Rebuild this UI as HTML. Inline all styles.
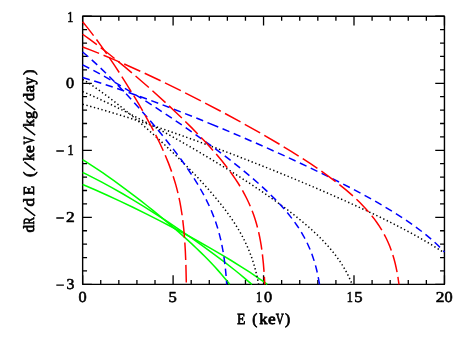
<!DOCTYPE html>
<html><head><meta charset="utf-8"><title>dR/dE vs E</title>
<style>html,body{margin:0;padding:0;background:#fff;}body{width:463px;height:342px;overflow:hidden;font-family:"Liberation Sans",sans-serif;}svg{display:block;will-change:transform;}</style>
</head><body>
<svg width="463" height="342" viewBox="0 0 463 342">
<rect width="463" height="342" fill="#fff"/>
<defs><clipPath id="c"><rect x="82.05" y="16.25" width="363.00" height="268.70"/></clipPath></defs>
<path d="M82.65 284.35v-9.2M82.65 16.25v9.2M100.74 284.35v-4.4M100.74 16.25v4.4M118.83 284.35v-4.4M118.83 16.25v4.4M136.92 284.35v-4.4M136.92 16.25v4.4M155.01 284.35v-4.4M155.01 16.25v4.4M173.10 284.35v-9.2M173.10 16.25v9.2M191.19 284.35v-4.4M191.19 16.25v4.4M209.28 284.35v-4.4M209.28 16.25v4.4M227.37 284.35v-4.4M227.37 16.25v4.4M245.46 284.35v-4.4M245.46 16.25v4.4M263.55 284.35v-9.2M263.55 16.25v9.2M281.64 284.35v-4.4M281.64 16.25v4.4M299.73 284.35v-4.4M299.73 16.25v4.4M317.82 284.35v-4.4M317.82 16.25v4.4M335.91 284.35v-4.4M335.91 16.25v4.4M354.00 284.35v-9.2M354.00 16.25v9.2M372.09 284.35v-4.4M372.09 16.25v4.4M390.18 284.35v-4.4M390.18 16.25v4.4M408.27 284.35v-4.4M408.27 16.25v4.4M426.36 284.35v-4.4M426.36 16.25v4.4M444.45 284.35v-9.2M444.45 16.25v9.2M82.65 16.25h9.2M444.45 16.25h-9.2M82.65 29.66h4.4M444.45 29.66h-4.4M82.65 43.06h4.4M444.45 43.06h-4.4M82.65 56.47h4.4M444.45 56.47h-4.4M82.65 69.87h4.4M444.45 69.87h-4.4M82.65 83.28h9.2M444.45 83.28h-9.2M82.65 96.68h4.4M444.45 96.68h-4.4M82.65 110.09h4.4M444.45 110.09h-4.4M82.65 123.49h4.4M444.45 123.49h-4.4M82.65 136.90h4.4M444.45 136.90h-4.4M82.65 150.30h9.2M444.45 150.30h-9.2M82.65 163.71h4.4M444.45 163.71h-4.4M82.65 177.11h4.4M444.45 177.11h-4.4M82.65 190.52h4.4M444.45 190.52h-4.4M82.65 203.92h4.4M444.45 203.92h-4.4M82.65 217.33h9.2M444.45 217.33h-9.2M82.65 230.73h4.4M444.45 230.73h-4.4M82.65 244.14h4.4M444.45 244.14h-4.4M82.65 257.54h4.4M444.45 257.54h-4.4M82.65 270.95h4.4M444.45 270.95h-4.4M82.65 284.35h9.2M444.45 284.35h-9.2" stroke="#000" stroke-width="1.3" fill="none"/>
<rect x="82.65" y="16.25" width="361.80" height="268.10" fill="none" stroke="#000" stroke-width="1.4" stroke-linejoin="round"/>
<g clip-path="url(#c)" fill="none">
<path d="M82.65 159.64L87.69 162.81L92.69 166.05L97.65 169.34L102.58 172.68L107.47 176.07L113.55 180.37L124.38 188.27L135.07 196.33L140.96 200.89L146.81 205.49L152.62 210.14L158.39 214.84L168.68 223.42L178.82 232.18L187.70 240.12L192.08 244.15L196.41 248.24L200.70 252.37L204.94 256.55L209.11 260.80L212.19 264.03L215.24 267.30L218.23 270.61L221.18 273.97L224.06 277.38L226.89 280.84L229.65 284.35" stroke="#00ff00" stroke-width="1.55"/>
<path d="M82.65 172.47L86.69 174.41L92.05 177.07L101.34 181.89L111.84 187.61L122.24 193.53L132.54 199.61L144.03 206.62L155.41 213.80L167.95 221.95L180.37 230.27L191.45 237.91L203.64 246.56L214.50 254.51L225.23 262.63L234.65 270.00L239.30 273.76L243.92 277.56L251.88 284.35" stroke="#00ff00" stroke-width="1.55"/>
<path d="M82.65 184.44L94.98 189.75L107.23 195.23L119.41 200.87L132.86 207.29L146.24 213.87L159.55 220.61L172.78 227.48L185.93 234.51L197.70 240.97L209.38 247.57L220.98 254.33L231.20 260.48L241.33 266.79L250.09 272.47L258.74 278.31L263.62 281.73L267.25 284.35" stroke="#00ff00" stroke-width="1.55"/>
<path d="M82.65 79.32L83.80 80.03 M85.94 81.37L87.08 82.10 M89.20 83.48L90.33 84.22 M92.43 85.63L93.55 86.38 M95.63 87.81L96.74 88.58 M98.81 90.04L99.91 90.82 M101.97 92.30L103.06 93.09 M105.10 94.59L106.19 95.39 M108.21 96.90L109.29 97.72 M111.31 99.25L112.38 100.07 M114.38 101.61L115.44 102.44 M117.44 104.00L118.50 104.84 M120.48 106.42L121.53 107.26 M123.50 108.85L124.55 109.70 M126.51 111.30L127.55 112.15 M129.50 113.77L130.54 114.63 M132.48 116.25L133.51 117.12 M135.45 118.75L136.48 119.63 M138.40 121.27L139.42 122.15 M141.34 123.80L142.36 124.69 M144.27 126.35L145.28 127.24 M147.18 128.91L148.19 129.81 M150.08 131.49L151.09 132.39 M152.97 134.08L153.98 134.98 M155.85 136.68L156.85 137.59 M158.72 139.29L159.71 140.21 M161.57 141.92L162.56 142.84 M164.41 144.56L165.40 145.48 M167.24 147.22L168.22 148.14 M170.06 149.88L171.04 150.82 M172.86 152.57L173.84 153.50 M175.66 155.26L176.63 156.20 M178.44 157.97L179.40 158.91 M181.20 160.69L182.16 161.64 M183.95 163.43L184.91 164.38 M186.69 166.18L187.64 167.14 M189.41 168.94L190.35 169.91 M192.11 171.73L193.05 172.70 M194.80 174.52L195.73 175.50 M197.47 177.34L198.39 178.33 M200.12 180.18L201.03 181.17 M202.75 183.03L203.66 184.03 M205.35 185.90L206.25 186.91 M207.93 188.80L208.83 189.81 M210.49 191.72L211.37 192.74 M213.02 194.66L213.89 195.69 M215.52 197.63L216.38 198.67 M217.99 200.62L218.84 201.67 M220.42 203.65L221.25 204.71 M222.81 206.70L223.63 207.77 M225.16 209.79L225.97 210.87 M227.47 212.91L228.26 214.00 M229.73 216.06L230.50 217.17 M231.93 219.25L232.69 220.37 M234.08 222.48L234.82 223.62 M236.17 225.76L236.88 226.90 M238.19 229.07L238.88 230.23 M240.14 232.42L240.80 233.60 M242.02 235.82L242.65 237.01 M243.82 239.26L244.42 240.46 M245.53 242.74L246.10 243.96 M247.16 246.26L247.70 247.49 M248.69 249.82L249.20 251.07 M250.14 253.42L250.62 254.68 M251.49 257.06L251.93 258.33 M252.74 260.73L253.16 262.02 M253.91 264.43L254.29 265.73 M254.98 268.16L255.33 269.47 M255.96 271.92L256.28 273.23 M256.86 275.69L257.15 277.01 M257.67 279.48L257.93 280.81 M258.41 283.29L258.60 284.35" stroke="#000000" stroke-width="1.5"/>
<path d="M82.65 91.57L83.89 92.11 M86.21 93.11L87.45 93.65 M89.76 94.68L91.00 95.23 M93.30 96.26L94.53 96.82 M96.84 97.87L98.06 98.43 M100.36 99.49L101.58 100.06 M103.87 101.13L105.10 101.71 M107.38 102.79L108.60 103.38 M110.88 104.47L112.10 105.06 M114.37 106.16L115.58 106.76 M117.86 107.87L119.07 108.47 M121.33 109.60L122.54 110.20 M124.80 111.33L126.01 111.94 M128.26 113.08L129.47 113.70 M131.72 114.85L132.92 115.46 M135.17 116.62L136.37 117.24 M138.61 118.41L139.81 119.04 M142.05 120.21L143.25 120.84 M145.48 122.02L146.67 122.65 M148.91 123.84L150.10 124.48 M152.33 125.68L153.52 126.32 M155.74 127.52L156.93 128.16 M159.15 129.37L160.33 130.02 M162.55 131.24L163.74 131.89 M165.95 133.11L167.13 133.76 M169.34 134.99L170.52 135.65 M172.73 136.89L173.91 137.55 M176.11 138.79L177.29 139.45 M179.49 140.70L180.66 141.37 M182.86 142.62L184.03 143.29 M186.23 144.55L187.40 145.22 M189.59 146.49L190.76 147.16 M192.94 148.44L194.11 149.11 M196.29 150.39L197.46 151.07 M199.64 152.36L200.80 153.04 M202.98 154.33L204.14 155.02 M206.31 156.31L207.47 157.01 M209.64 158.31L210.80 159.00 M212.97 160.31L214.12 161.01 M216.29 162.32L217.44 163.02 M219.60 164.34L220.75 165.05 M222.90 166.37L224.05 167.08 M226.20 168.41L227.35 169.13 M229.50 170.46L230.64 171.18 M232.78 172.53L233.93 173.25 M236.06 174.60L237.20 175.32 M239.34 176.68L240.47 177.41 M242.60 178.78L243.74 179.51 M245.86 180.88L246.99 181.62 M249.11 183.00L250.24 183.74 M252.35 185.14L253.48 185.88 M255.59 187.28L256.71 188.03 M258.81 189.44L259.93 190.20 M262.02 191.62L263.14 192.38 M265.22 193.81L266.33 194.57 M268.41 196.02L269.52 196.79 M271.59 198.24L272.69 199.02 M274.76 200.49L275.86 201.27 M277.91 202.75L279.00 203.54 M281.05 205.03L282.13 205.83 M284.17 207.34L285.25 208.15 M287.27 209.67L288.34 210.48 M290.35 212.02L291.42 212.85 M293.42 214.40L294.48 215.24 M296.46 216.81L297.51 217.66 M299.47 219.25L300.52 220.11 M302.47 221.72L303.50 222.59 M305.43 224.23L306.45 225.11 M308.36 226.77L309.37 227.67 M311.26 229.35L312.26 230.26 M314.12 231.97L315.10 232.90 M316.93 234.64L317.90 235.58 M319.71 237.35L320.66 238.31 M322.43 240.12L323.37 241.09 M325.10 242.93L326.02 243.92 M327.72 245.80L328.61 246.81 M330.26 248.73L331.13 249.76 M332.74 251.71L333.59 252.76 M335.14 254.76L335.96 255.83 M337.46 257.87L338.25 258.97 M339.69 261.04L340.45 262.16 M341.83 264.28L342.55 265.42 M343.87 267.58L344.55 268.75 M345.80 270.95L346.45 272.13 M347.62 274.37L348.23 275.58 M349.33 277.86L349.90 279.08 M350.93 281.39L351.45 282.64" stroke="#000000" stroke-width="1.5"/>
<path d="M82.65 104.27L83.95 104.62 M86.40 105.28L87.70 105.63 M90.14 106.30L91.44 106.67 M93.88 107.35L95.17 107.71 M97.61 108.40L98.91 108.78 M101.34 109.48L102.63 109.85 M105.06 110.56L106.36 110.94 M108.78 111.66L110.08 112.05 M112.50 112.77L113.79 113.16 M116.21 113.90L117.51 114.29 M119.92 115.03L121.21 115.43 M123.63 116.18L124.92 116.58 M127.33 117.34L128.62 117.74 M131.03 118.51L132.32 118.92 M134.73 119.69L136.01 120.10 M138.42 120.88L139.71 121.29 M142.11 122.08L143.40 122.50 M145.80 123.29L147.08 123.71 M149.48 124.51L150.76 124.93 M153.16 125.73L154.44 126.16 M156.84 126.97L158.12 127.40 M160.52 128.22L161.79 128.65 M164.19 129.47L165.46 129.91 M167.86 130.73L169.13 131.17 M171.52 132.00L172.80 132.45 M175.19 133.28L176.46 133.73 M178.85 134.57L180.12 135.02 M182.50 135.86L183.78 136.31 M186.16 137.16L187.43 137.61 M189.81 138.47L191.08 138.92 M193.46 139.78L194.73 140.24 M197.11 141.10L198.38 141.56 M200.76 142.43L202.03 142.89 M204.40 143.77L205.67 144.23 M208.04 145.11L209.31 145.58 M211.68 146.45L212.95 146.93 M215.32 147.81L216.58 148.28 M218.95 149.17L220.21 149.64 M222.58 150.54L223.84 151.01 M226.21 151.91L227.47 152.39 M229.84 153.29L231.10 153.77 M233.46 154.67L234.72 155.16 M237.08 156.06L238.34 156.55 M240.70 157.46L241.96 157.95 M244.32 158.86L245.58 159.35 M247.94 160.27L249.19 160.76 M251.55 161.69L252.81 162.18 M255.16 163.11L256.42 163.60 M258.77 164.53L260.02 165.03 M262.37 165.97L263.63 166.47 M265.98 167.40L267.23 167.91 M269.58 168.85L270.83 169.35 M273.18 170.30L274.43 170.80 M276.77 171.75L278.03 172.26 M280.37 173.21L281.62 173.72 M283.96 174.68L285.21 175.19 M287.55 176.15L288.80 176.67 M291.14 177.63L292.38 178.15 M294.72 179.12L295.97 179.64 M298.30 180.61L299.55 181.13 M301.88 182.11L303.13 182.63 M305.46 183.61L306.70 184.14 M309.03 185.13L310.27 185.65 M312.60 186.64L313.84 187.17 M316.17 188.17L317.41 188.70 M319.74 189.70L320.98 190.23 M323.30 191.24L324.54 191.78 M326.86 192.79L328.09 193.32 M330.41 194.34L331.65 194.88 M333.96 195.90L335.20 196.45 M337.51 197.47L338.75 198.02 M341.06 199.05L342.29 199.60 M344.60 200.63L345.83 201.19 M348.13 202.23L349.36 202.79 M351.67 203.83L352.90 204.39 M355.20 205.45L356.42 206.01 M358.72 207.07L359.94 207.64 M362.24 208.70L363.46 209.27 M365.75 210.35L366.98 210.92 M369.26 212.00L370.48 212.58 M372.77 213.67L373.98 214.25 M376.26 215.35L377.48 215.94 M379.76 217.04L380.97 217.63 M383.24 218.75L384.45 219.34 M386.72 220.47L387.93 221.07 M390.19 222.20L391.40 222.81 M393.65 223.95L394.86 224.56 M397.11 225.71L398.31 226.33 M400.55 227.50L401.75 228.12 M403.99 229.30L405.18 229.93 M407.42 231.12L408.61 231.76 M410.83 232.96L412.02 233.60 M414.24 234.82L415.42 235.47 M417.63 236.71L418.81 237.37 M421.01 238.62L422.18 239.29 M424.37 240.55L425.54 241.23 M427.72 242.51L428.88 243.20 M431.05 244.50L432.20 245.20 M434.36 246.53L435.51 247.24 M437.65 248.58L438.79 249.31 M440.92 250.67L442.05 251.41 M444.16 252.80L444.45 252.99" stroke="#000000" stroke-width="1.5"/>
<path d="M82.65 52.01L88.29 56.80 M91.79 59.90L97.25 64.89 M100.65 68.09L105.98 73.23 M109.30 76.51L114.51 81.76 M117.77 85.11L122.89 90.45 M126.09 93.85L131.12 99.28 M134.26 102.73L139.21 108.23 M142.31 111.73L147.18 117.30 M150.23 120.84L155.02 126.48 M158.01 130.06L162.71 135.78 M165.65 139.41L170.24 145.21 M173.11 148.90L177.59 154.79 M180.37 158.54L184.70 164.54 M187.37 168.37L191.51 174.50 M194.05 178.42L197.95 184.71 M200.32 188.74L203.91 195.21 M206.06 199.35L209.27 206.02 M211.16 210.29L213.92 217.15 M215.52 221.54L217.79 228.58 M219.08 233.07L220.87 240.25 M221.85 244.82L223.20 252.09 M223.92 256.71L224.89 264.04 M225.41 268.68L226.10 276.05 M226.46 280.71L226.70 284.35" stroke="#0000ff" stroke-width="1.5"/>
<path d="M82.65 64.89L89.24 68.26 M93.37 70.43L99.88 73.95 M103.97 76.21L110.42 79.84 M114.46 82.17L120.85 85.91 M124.86 88.30L131.20 92.12 M135.18 94.56L141.46 98.47 M145.42 100.96L151.66 104.93 M155.58 107.46L161.78 111.51 M165.68 114.08L171.84 118.18 M175.71 120.79L181.82 124.96 M185.67 127.61L191.74 131.83 M195.56 134.52L201.59 138.81 M205.38 141.54L211.36 145.90 M215.12 148.67L221.04 153.11 M224.77 155.93L230.63 160.45 M234.30 163.33L240.09 167.94 M243.71 170.89L249.40 175.62 M252.96 178.64L258.53 183.51 M262.00 186.63L267.42 191.67 M270.79 194.91L276.01 200.15 M279.23 203.54L284.19 209.02 M287.23 212.57L291.85 218.35 M294.64 222.10L297.18 225.74L298.82 228.20 M301.30 232.16L303.53 236.00L304.94 238.60 M307.05 242.77L308.31 245.45L310.08 249.52 M311.78 253.86L312.79 256.65L314.17 260.87 M315.48 265.35L316.24 268.21L317.27 272.53 M318.23 277.10L319.52 284.35" stroke="#0000ff" stroke-width="1.5"/>
<path d="M82.65 77.54L89.74 79.67 M94.20 81.05L101.25 83.29 M105.69 84.73L112.72 87.05 M117.15 88.53L124.15 90.93 M128.56 92.47L135.54 94.93 M139.93 96.51L146.89 99.03 M151.27 100.65L158.21 103.23 M162.58 104.88L169.49 107.51 M173.85 109.19L180.74 111.88 M185.09 113.58L191.97 116.31 M196.30 118.05L203.16 120.82 M207.49 122.58L218.24 127.01 M222.55 128.81L229.37 131.68 M233.67 133.50L240.48 136.40 M244.77 138.25L251.56 141.19 M255.84 143.06L262.61 146.04 M266.88 147.93L273.64 150.95 M277.89 152.87L284.63 155.93 M288.88 157.88L295.59 160.98 M299.83 162.95L306.52 166.10 M310.74 168.11L317.41 171.31 M321.62 173.34L328.26 176.60 M332.45 178.67L339.06 181.99 M343.22 184.11L349.80 187.50 M353.94 189.66L360.47 193.14 M364.58 195.36L371.06 198.93 M375.13 201.22L381.55 204.90 M385.58 207.27L391.91 211.09 M395.88 213.56L402.11 217.55 M406.00 220.13L412.10 224.33 M415.89 227.05L421.81 231.49 M425.47 234.39L431.14 239.14 M434.63 242.24L437.87 245.28L439.98 247.36 M443.23 250.71L444.45 252.03" stroke="#0000ff" stroke-width="1.5"/>
<path d="M82.65 21.81L88.20 28.65L93.58 35.63 M96.48 39.52L101.65 46.65L106.71 53.86 M109.45 57.86L114.37 65.17L119.21 72.53 M121.84 76.61L126.56 84.05L131.20 91.54 M133.72 95.68L138.24 103.24L142.67 110.86 M145.06 115.08L149.33 122.79L153.46 130.56 M155.68 134.88L159.58 142.78L163.28 150.77 M165.23 155.21L168.57 163.37L171.62 171.63 M173.17 176.22L174.50 180.43L175.74 184.65L176.89 188.90L177.96 193.18 M179.03 197.91L179.92 202.22L180.73 206.55L182.12 215.25 M182.76 220.06L183.73 228.81L184.49 237.59 M184.84 242.43L185.34 251.22L185.72 260.03 M185.89 264.87L186.32 282.49" stroke="#ff0000" stroke-width="1.5"/>
<path d="M82.65 34.25L89.80 39.40L96.86 44.66 M100.72 47.60L107.67 53.02L114.56 58.51 M118.32 61.57L125.12 67.17L131.87 72.84 M135.56 75.98L148.85 87.55 M152.47 90.77L165.52 102.61 M169.08 105.91L175.49 111.95L181.85 118.05 M185.32 121.43L191.57 127.64L197.74 133.93 M201.10 137.43L207.12 143.86L213.01 150.41 M216.20 154.07L221.85 160.83L227.30 167.75 M230.21 171.63L232.77 175.21L235.27 178.84L237.68 182.53L240.01 186.26 M242.47 190.45L244.59 194.31L246.60 198.22L248.51 202.20L250.29 206.22 M252.12 210.72L253.64 214.85L255.05 219.02L256.33 223.24L257.49 227.49 M258.64 232.20L259.57 236.50L260.40 240.83L261.14 245.17L261.79 249.53 M262.41 254.34L263.34 263.10L264.05 271.88 M264.36 276.72L264.77 284.35" stroke="#ff0000" stroke-width="1.5"/>
<path d="M82.65 46.94L90.87 50.10L99.06 53.37 M103.55 55.20L111.67 58.60L119.77 62.08 M124.21 64.02L140.28 71.25 M144.69 73.28L160.62 80.80 M164.99 82.90L180.81 90.66 M185.15 92.83L200.86 100.82 M205.16 103.04L220.76 111.24 M225.04 113.52L240.52 121.94 M244.77 124.28L260.12 132.93 M264.32 135.35L279.52 144.27 M283.67 146.77L291.19 151.37L298.65 156.05 M302.74 158.66L310.11 163.48L317.42 168.40 M321.40 171.17L328.57 176.30L335.62 181.58 M339.44 184.56L346.27 190.13L352.90 195.92 M356.46 199.22L359.62 202.29L362.71 205.43L365.72 208.64L368.64 211.94 M371.74 215.67L374.44 219.15L377.03 222.72L379.48 226.37L381.80 230.12 M384.19 234.34L386.20 238.26L388.06 242.25L389.76 246.31L391.31 250.44 M392.85 255.04L394.10 259.26L395.21 263.52L396.19 267.82L397.06 272.14 M397.90 276.91L398.98 284.35" stroke="#ff0000" stroke-width="1.5"/>
</g>
<g font-family="'Liberation Serif', serif" font-size="15.2" fill="#000" text-rendering="geometricPrecision" stroke="#000" stroke-width="0.6" stroke-linejoin="round">
<text transform="translate(82.50 301.85) scale(1.071 1)" text-anchor="middle">0</text>
<text transform="translate(172.54 301.85) scale(1.094 1)" text-anchor="middle">5</text>
<text transform="translate(259.03 301.85) scale(0.804 1)" text-anchor="middle">1</text>
<text transform="translate(268.10 301.85) scale(1.071 1)" text-anchor="middle">0</text>
<text transform="translate(349.83 301.85) scale(0.804 1)" text-anchor="middle">1</text>
<text transform="translate(358.29 301.85) scale(1.094 1)" text-anchor="middle">5</text>
<text transform="translate(440.20 301.85) scale(1.148 1)" text-anchor="middle">2</text>
<text transform="translate(448.65 301.85) scale(1.071 1)" text-anchor="middle">0</text>
<text transform="translate(70.23 22.00) scale(0.804 1)" text-anchor="middle">1</text>
<text transform="translate(70.15 88.00) scale(1.071 1)" text-anchor="middle">0</text>
<text transform="translate(70.43 155.00) scale(0.804 1)" text-anchor="middle">1</text>
<text transform="translate(70.25 222.00) scale(1.148 1)" text-anchor="middle">2</text>
<text transform="translate(70.33 289.00) scale(1.035 1)" text-anchor="middle">3</text>
<path d="M56.3 151.05H63.9M56.3 218.08H63.9M56.3 285.10H63.9" stroke="#000" stroke-width="1.45" fill="none"/>
</g>
<g font-family="'Liberation Serif', serif" font-weight="normal" font-size="15.5" fill="#000" text-rendering="geometricPrecision" stroke="#000" stroke-width="0.75" stroke-linejoin="round">
<text transform="translate(241.24 324.30) scale(0.885 1)" text-anchor="middle">E</text>
<text transform="translate(254.66 324.30) scale(0.979 1)" text-anchor="middle">(</text>
<text transform="translate(263.44 324.30) scale(1.073 1)" text-anchor="middle">k</text>
<text transform="translate(271.72 324.30) scale(1.116 1)" text-anchor="middle">e</text>
<text transform="translate(279.70 324.30) scale(0.728 1)" text-anchor="middle">V</text>
<text transform="translate(287.54 324.30) scale(1.004 1)" text-anchor="middle">)</text>
<text transform="translate(34.00 228.68) rotate(-90) scale(0.985 1)" text-anchor="middle">d</text>
<text transform="translate(34.00 220.95) rotate(-90) scale(0.699 1)" text-anchor="middle">R</text>
<text transform="translate(34.00 202.20) rotate(-90) scale(1.085 1)" text-anchor="middle">d</text>
<text transform="translate(34.00 190.64) rotate(-90) scale(0.994 1)" text-anchor="middle">E</text>
<text transform="translate(34.00 174.20) rotate(-90) scale(1.054 1)" text-anchor="middle">(</text>
<text transform="translate(34.00 156.99) rotate(-90) scale(0.966 1)" text-anchor="middle">k</text>
<text transform="translate(34.00 148.99) rotate(-90) scale(1.133 1)" text-anchor="middle">e</text>
<text transform="translate(34.00 140.35) rotate(-90) scale(0.728 1)" text-anchor="middle">V</text>
<text transform="translate(34.00 123.04) rotate(-90) scale(0.966 1)" text-anchor="middle">k</text>
<text transform="translate(34.00 114.99) rotate(-90) scale(1.016 1)" text-anchor="middle">g</text>
<text transform="translate(34.00 96.85) rotate(-90) scale(1.056 1)" text-anchor="middle">d</text>
<text transform="translate(34.00 88.68) rotate(-90) scale(1.111 1)" text-anchor="middle">a</text>
<text transform="translate(34.00 80.76) rotate(-90) scale(0.933 1)" text-anchor="middle">y</text>
<text transform="translate(34.00 72.20) rotate(-90) scale(1.054 1)" text-anchor="middle">)</text>
</g>
<path d="M35.20 215.80L24.40 207.60M35.20 170.15L24.40 161.95M35.20 135.05L24.40 126.85M35.20 109.95L24.40 101.75" stroke="#000" stroke-width="1.45" fill="none"/>
</svg>
</body></html>
